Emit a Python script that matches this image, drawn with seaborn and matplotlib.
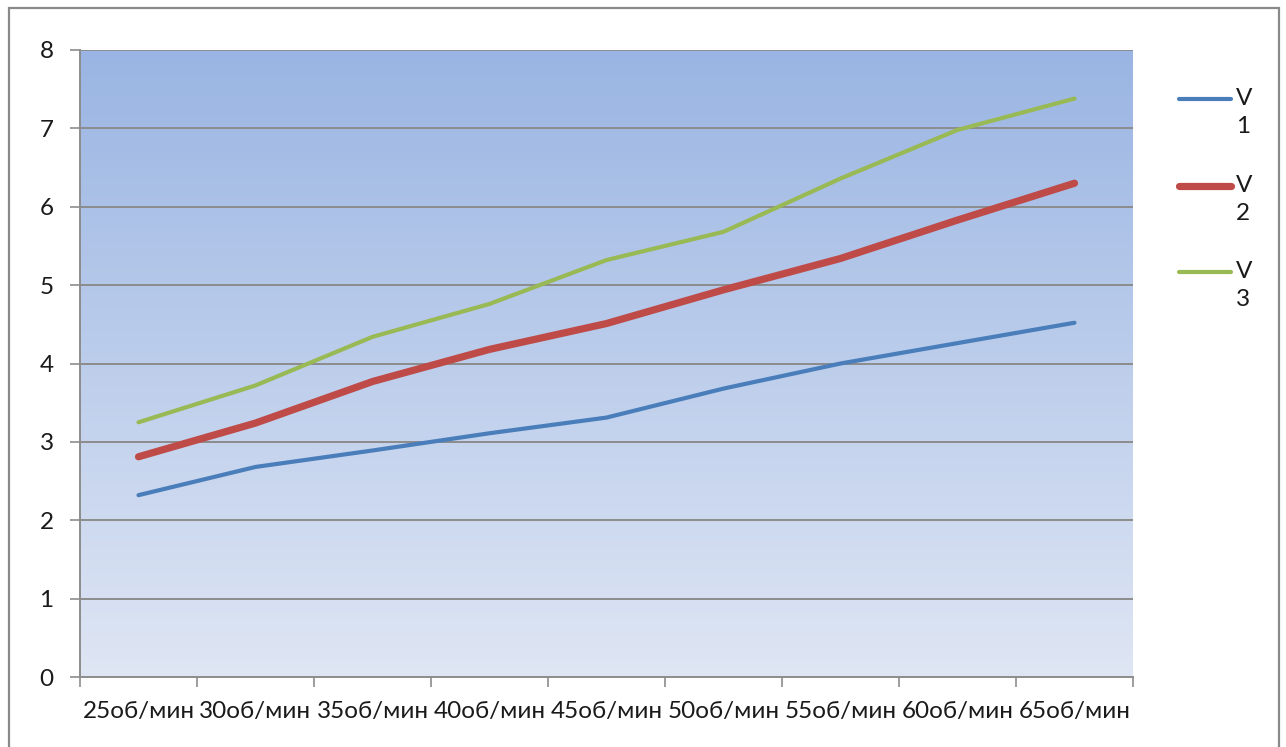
import numpy as np
import pandas as pd
import matplotlib
matplotlib.use("Agg")
import matplotlib.pyplot as plt
from matplotlib.colors import LinearSegmentedColormap
from matplotlib.lines import Line2D
from matplotlib.patches import Rectangle
import seaborn as sns

# Rotation speeds and measured values for the three series
speeds = ["25об/мин", "30об/мин", "35об/мин", "40об/мин", "45об/мин",
          "50об/мин", "55об/мин", "60об/мин", "65об/мин"]
v1 = [2.32, 2.68, 2.89, 3.11, 3.31, 3.68, 4.00, 4.26, 4.52]
v2 = [2.81, 3.24, 3.77, 4.18, 4.51, 4.94, 5.34, 5.83, 6.30]
v3 = [3.25, 3.72, 4.34, 4.76, 5.32, 5.68, 6.36, 6.98, 7.38]
series_names = ["V1", "V2", "V3"]
legend_labels = ["V\n1", "V\n2", "V\n3"]
y_ticks = [0, 1, 2, 3, 4, 5, 6, 7, 8]

colors = ["#4a7ebb", "#be4b48", "#98b954"]
widths = [3.0, 5.2, 3.0]
FS = 17.5

sns.set_theme(style="white")
plt.rcParams["font.family"] = ["Lato", "DejaVu Sans"]

W, H, DPI = 1286, 747, 100
fig = plt.figure(figsize=(W / DPI, H / DPI), dpi=DPI)
fig.patch.set_facecolor("white")

# chart frame
fig.add_artist(Rectangle((9 / W, 1 - 760 / H), 1270 / W, 752 / H,
                         transform=fig.transFigure, fill=False,
                         edgecolor="#8a8a8a", linewidth=1.6))

ax = fig.add_axes([80 / W, 1 - 677 / H, (1133 - 80) / W, (677 - 50) / H])

# vertical gradient plot area
grad = LinearSegmentedColormap.from_list("area", ["#dfe6f4", "#9ab5e3"])
ax.imshow(np.linspace(0, 1, 256).reshape(-1, 1), cmap=grad, aspect="auto",
          origin="lower", extent=[0, 1, 0, 1], transform=ax.transAxes,
          zorder=0, interpolation="bicubic")

df = pd.DataFrame({
    "speed": speeds * 3,
    "value": v1 + v2 + v3,
    "series": np.repeat(series_names, len(speeds)),
})
sns.lineplot(data=df, x="speed", y="value", hue="series",
             palette=dict(zip(series_names, colors)), ax=ax,
             legend=False, sort=False, zorder=3)
for line, lw in zip(ax.lines, widths):
    line.set_linewidth(lw)
    line.set_solid_capstyle("round")
    line.set_solid_joinstyle("round")

ax.set_xlim(-0.5, len(speeds) - 0.5)
ax.set_ylim(0, 8)
ax.set_xlabel("")
ax.set_ylabel("")

# gridlines
for y in y_ticks[1:]:
    ax.axhline(y, color="#8c8c8c", linewidth=1.4, zorder=1)

ax.set_yticks(y_ticks)
ax.set_yticklabels([str(t) for t in y_ticks])
ax.set_xticks(np.arange(-0.5, len(speeds)), labels=[""] * (len(speeds) + 1))
ax.set_xticks(np.arange(len(speeds)), labels=speeds, minor=True)
ax.tick_params(axis="both", which="major", length=7, width=1.2,
               color="#8c8c8c", direction="out")
ax.tick_params(axis="x", which="minor", length=0, pad=17, labelsize=FS,
               labelcolor="#1a1a1a")
ax.tick_params(axis="y", which="major", pad=12, labelsize=FS,
               labelcolor="#1a1a1a")
ax.tick_params(axis="x", which="major", pad=0)
ax.tick_params(left=True, bottom=True)

for side in ["top", "right"]:
    ax.spines[side].set_visible(False)
for side in ["left", "bottom"]:
    ax.spines[side].set_color("#8c8c8c")
    ax.spines[side].set_linewidth(1.4)
ax.set_facecolor("none")

# legend entries to the right of the plot area
leg_y = [99, 186, 272]
for color, lw, label, yy in zip(colors, widths, legend_labels, leg_y):
    fig.add_artist(Line2D([1179 / W, 1231 / W], [1 - yy / H, 1 - yy / H],
                          transform=fig.transFigure, color=color,
                          linewidth=lw, solid_capstyle="round"))
    fig.text(1236 / W, 1 - (yy - 11) / H, label, fontsize=FS,
             color="#1a1a1a", va="top", ha="left", linespacing=1.4)

fig.savefig("out.png", dpi=DPI)
